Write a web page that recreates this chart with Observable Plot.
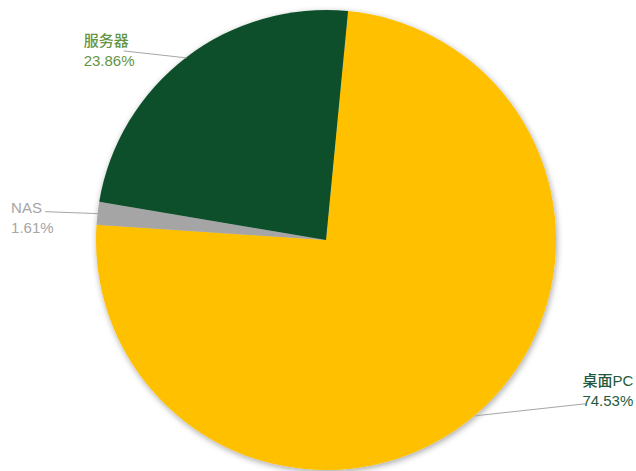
<!DOCTYPE html>
<html><head><meta charset="utf-8">
<script src="https://cdn.jsdelivr.net/npm/d3@7"></script>
<script src="https://cdn.jsdelivr.net/npm/@observablehq/plot@0.6"></script>
<style>body{margin:0;background:#fff}</style>
</head><body><div id="chart"></div>
<script>
// ---- data ----
const categories = ["桌面PC", "NAS", "服务器"];
const shares = [74.53, 1.61, 23.86];
const shareLabels = ["74.53%", "1.61%", "23.86%"];
const sliceColors = ["#FFC000", "#A5A5A5", "#0A4F2B"];
const labelColors = ["#1F5A3E", "#A6A6A6", "#649545"];

// ---- layout ----
const W = 636, H = 471, CX = 326, CY = 240, R = 230, START_DEG = 5.5;
const leaderEnd = [[110, -12], [-53, -2], [-63, -7]];      // px from slice edge midpoint
const textOffset = [[-3, -14.5], [-34, 5], [-40, -1.5]];    // px from leader end

const rows = categories.map((c, i) => ({
  category: c, share: shares[i], label: c + "\n" + shareLabels[i],
  fillColor: sliceColors[i], textColor: labelColors[i]
}));
const a0 = START_DEG * Math.PI / 180;
const arcs = d3.pie().sort(null).value(d => d.share).startAngle(a0).endAngle(a0 + 2 * Math.PI)(rows);
arcs.forEach((a, i) => {
  const mid = (a.startAngle + a.endAngle) / 2;
  a.ex = Math.sin(mid); a.ey = Math.cos(mid);
  a.lx = a.ex + leaderEnd[i][0] / R; a.ly = a.ey - leaderEnd[i][1] / R;
  a.tx = a.lx + textOffset[i][0] / R; a.ty = a.ly - textOffset[i][1] / R;
  a.label = a.data.label; a.textColor = a.data.textColor;
});

function pieMark(index, scales) {
  const cx = scales.x(0), cy = scales.y(0), r = scales.x(1) - scales.x(0);
  const g = d3.create("svg:g");
  const f = g.append("defs").append("filter").attr("id", "pieShadow")
    .attr("x", "-10%").attr("y", "-10%").attr("width", "120%").attr("height", "120%");
  f.append("feDropShadow").attr("dx", 1).attr("dy", 2).attr("stdDeviation", 3)
    .attr("flood-color", "#000").attr("flood-opacity", 0.35);
  const arcGen = d3.arc().innerRadius(0).outerRadius(r);
  const pg = g.append("g").attr("transform", `translate(${cx},${cy})`).attr("filter", "url(#pieShadow)");
  pg.selectAll("path").data(arcs).join("path")
    .attr("d", arcGen).attr("fill", d => d.data.fillColor);
  return g.node();
}

const chart = Plot.plot({
  width: W, height: H, margin: 0,
  x: {domain: [-1, 1], range: [CX - R, CX + R], axis: null},
  y: {domain: [-1, 1], range: [CY + R, CY - R], axis: null},
  color: {type: "identity"},
  style: {fontFamily: '"Liberation Sans","Noto Sans CJK SC",sans-serif', background: "white"},
  marks: [
    pieMark,
    Plot.link(arcs, {x1: "ex", y1: "ey", x2: "lx", y2: "ly", stroke: "#A6A6A6", strokeWidth: 1}),
    Plot.text(arcs, {x: "tx", y: "ty", text: "label", fill: "textColor", textAnchor: "start",
      lineAnchor: "middle", lineHeight: 1.35, fontSize: 15, fontWeight: 500, letterSpacing: "-0.4px"})
  ]
});
document.getElementById("chart").appendChild(chart);
</script>
</body></html>
